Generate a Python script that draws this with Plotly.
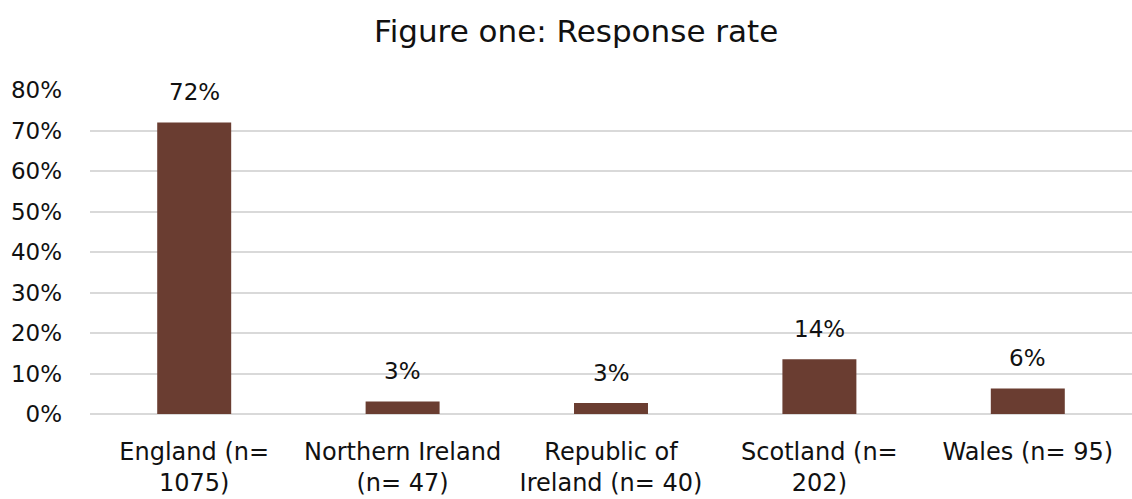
import plotly.graph_objects as go

# Response rate by nation
categories = [
    "England (n=<br>1075)",
    "Northern Ireland<br>(n= 47)",
    "Republic of<br>Ireland (n= 40)",
    "Scotland (n=<br>202)",
    "Wales (n= 95)",
]
response_rate = [0.72, 0.031, 0.027, 0.135, 0.063]
y_ticks = [0, 0.1, 0.2, 0.3, 0.4, 0.5, 0.6, 0.7, 0.8]
y_tick_labels = ["0%", "10%", "20%", "30%", "40%", "50%", "60%", "70%", "80%"]

FONT = "'DejaVu Sans', sans-serif"
TEXT = "#111111"

fig = go.Figure(
    go.Bar(
        x=categories,
        y=response_rate,
        marker=dict(color="#6A3D31", line=dict(width=0)),
        hoverinfo="skip",
    )
)

# value labels above each bar
for cat, val in zip(categories, response_rate):
    fig.add_annotation(
        x=cat,
        y=val,
        text=f"{val:.0%}",
        showarrow=False,
        yanchor="bottom",
        yshift=15,
        font=dict(family=FONT, size=23, color=TEXT),
    )

fig.update_layout(
    width=1132,
    height=499,
    margin=dict(l=90, r=0, t=90, b=85),
    paper_bgcolor="white",
    plot_bgcolor="white",
    bargap=0.645,
    showlegend=False,
    title=dict(
        text="Figure one: Response rate",
        x=0.509,
        xanchor="center",
        y=0.938,
        yanchor="middle",
        font=dict(family=FONT, size=31, color=TEXT),
    ),
    font=dict(family=FONT, color=TEXT),
)

fig.update_yaxes(
    range=[0, 0.8],
    tickvals=y_ticks,
    ticktext=y_tick_labels,
    tickfont=dict(family=FONT, size=23, color=TEXT),
    showgrid=True,
    gridcolor="#D9D9D9",
    gridwidth=1.5,
    zeroline=True,
    zerolinecolor="#D9D9D9",
    zerolinewidth=1.5,
    showline=False,
    ticks="",
    ticklabelstandoff=27,
)

fig.update_xaxes(
    tickfont=dict(family=FONT, size=24, color=TEXT),
    showline=False,
    showgrid=False,
    ticks="",
    tickangle=0,
    ticklabelstandoff=21,
)

fig.write_html("out.html")
